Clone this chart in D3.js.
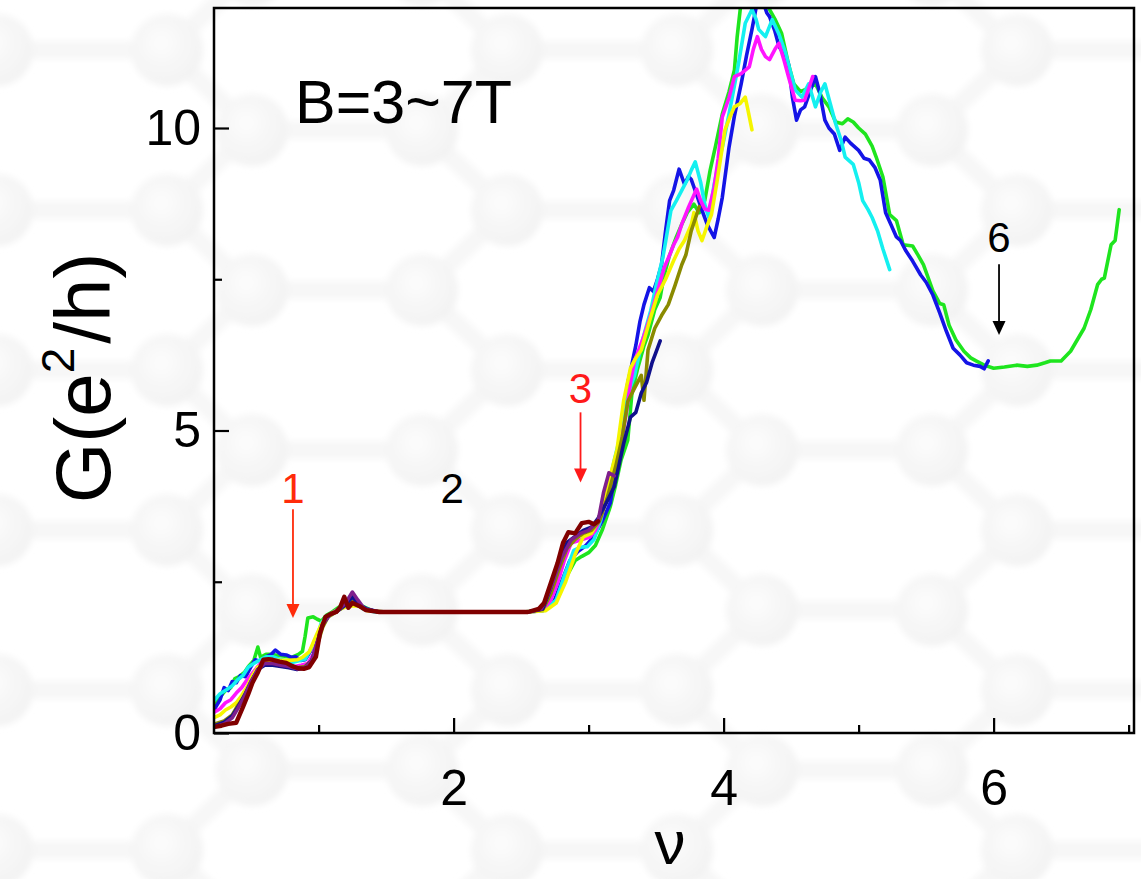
<!DOCTYPE html>
<html>
<head>
<meta charset="utf-8">
<script src="https://cdn.jsdelivr.net/npm/d3@7"></script>
<style>
  html, body { margin: 0; padding: 0; background: #ffffff; }
  svg { display: block; }
  text { font-family: "Liberation Sans", Arial, sans-serif; }
</style>
</head>
<body>
<svg id="chart" width="1141" height="879"></svg>
<script>
// ---------------- DATA ----------------
const xMajorTicks = [2, 4, 6];
const xMinorTicks = [1, 3, 5, 7];
const yMajorTicks = [0, 5, 10];
const yMinorTicks = [2.5, 7.5];

const seriesNames  = ["green", "blue", "cyan", "magenta", "yellow", "olive", "navy", "purple", "maroon"];
const seriesColors = ["#1ee51e", "#1414e6", "#14f0f0", "#ff14ff", "#f5f500", "#8a8a00", "#10108c", "#7f1f8c", "#800000"];

const green = [[0.23,0.45],[0.27,0.6],[0.31,0.7],[0.35,0.75],[0.38,0.9],[0.41,0.93],[0.45,1.0],[0.48,1.1],[0.52,1.2],[0.55,1.42],[0.57,1.25],[0.61,1.3],[0.65,1.3],[0.7,1.28],[0.75,1.27],[0.8,1.25],[0.85,1.3],[0.88,1.35],[0.9,1.6],[0.92,1.9],[0.96,1.92],[0.99,1.88],[1.02,1.85],[1.06,1.95],[1.1,2.0],[1.15,2.08],[1.2,2.12],[1.25,2.25],[1.28,2.15],[1.32,2.1],[1.4,2.02],[1.5,2.0],[1.8,2.0],[2.2,2.0],[2.5,2.0],[2.65,2.02],[2.72,2.1],[2.78,2.3],[2.84,2.6],[2.9,2.85],[2.95,2.92],[3.0,2.98],[3.05,3.1],[3.1,3.35],[3.16,3.74],[3.2,4.1],[3.24,4.51],[3.29,4.84],[3.32,5.6],[3.36,6.0],[3.41,6.4],[3.44,6.58],[3.49,7.0],[3.53,7.2],[3.56,7.57],[3.6,7.9],[3.65,8.2],[3.69,8.41],[3.73,8.6],[3.78,8.74],[3.82,8.6],[3.86,8.8],[3.9,9.3],[3.94,9.7],[3.99,10.23],[4.04,10.6],[4.08,10.96],[4.1,11.5],[4.13,12.1],[4.2,12.3],[4.27,12.2],[4.33,12.0],[4.38,11.8],[4.43,11.56],[4.48,11.06],[4.52,10.73],[4.57,10.6],[4.62,10.65],[4.68,10.73],[4.73,10.5],[4.78,10.35],[4.83,10.1],[4.88,10.07],[4.92,10.15],[4.96,10.1],[5.0,10.0],[5.05,9.9],[5.1,9.7],[5.13,9.52],[5.18,9.19],[5.23,8.57],[5.28,8.47],[5.33,8.07],[5.4,8.05],[5.44,7.9],[5.48,7.74],[5.55,7.31],[5.6,7.1],[5.63,7.08],[5.67,6.74],[5.72,6.5],[5.78,6.31],[5.83,6.2],[5.87,6.15],[5.93,6.08],[6.0,6.03],[6.08,6.05],[6.17,6.08],[6.25,6.06],[6.32,6.08],[6.38,6.12],[6.42,6.15],[6.5,6.15],[6.57,6.31],[6.62,6.5],[6.67,6.69],[6.72,7.0],[6.77,7.41],[6.8,7.5],[6.82,7.52],[6.87,8.07],[6.9,8.14],[6.93,8.65]];

const blue = [[0.23,0.4],[0.27,0.55],[0.3,0.75],[0.33,0.7],[0.36,0.85],[0.39,0.83],[0.42,0.95],[0.46,0.93],[0.5,1.1],[0.53,1.21],[0.57,1.18],[0.61,1.26],[0.65,1.3],[0.68,1.37],[0.72,1.3],[0.76,1.29],[0.8,1.25],[0.83,1.26],[0.87,1.2],[0.9,1.21],[0.94,1.35],[0.97,1.49],[1.0,1.59],[1.04,1.85],[1.08,1.95],[1.14,2.02],[1.2,2.1],[1.26,2.22],[1.3,2.12],[1.36,2.05],[1.45,2.0],[1.8,2.0],[2.2,2.0],[2.55,2.0],[2.66,2.02],[2.74,2.15],[2.8,2.5],[2.86,2.85],[2.92,3.0],[2.98,3.1],[3.04,3.25],[3.1,3.5],[3.16,3.8],[3.21,4.5],[3.25,5.0],[3.29,5.79],[3.31,5.98],[3.35,6.41],[3.38,6.8],[3.41,7.08],[3.45,7.36],[3.48,7.3],[3.51,7.5],[3.54,7.74],[3.57,8.3],[3.6,8.8],[3.63,8.97],[3.67,9.32],[3.71,9.07],[3.74,9.2],[3.76,9.15],[3.8,8.9],[3.84,8.64],[3.88,8.4],[3.93,8.19],[3.96,8.5],[3.99,8.85],[4.04,9.68],[4.08,10.2],[4.13,10.73],[4.17,11.2],[4.21,11.63],[4.25,12.1],[4.29,12.1],[4.32,11.9],[4.34,11.84],[4.38,11.6],[4.41,11.35],[4.45,11.2],[4.48,11.06],[4.51,10.5],[4.54,10.13],[4.57,10.3],[4.6,10.35],[4.64,10.6],[4.68,10.85],[4.71,10.6],[4.75,10.13],[4.78,10.0],[4.82,9.9],[4.86,9.63],[4.9,9.85],[4.94,9.75],[5.0,9.63],[5.04,9.5],[5.08,9.47],[5.12,9.35],[5.16,9.14],[5.2,8.6],[5.24,8.4],[5.28,8.2],[5.31,8.14],[5.35,7.97],[5.4,7.8],[5.46,7.57],[5.5,7.45],[5.55,7.24],[5.6,6.95],[5.65,6.64],[5.7,6.36],[5.75,6.25],[5.8,6.12],[5.85,6.08],[5.9,6.06],[5.93,6.02],[5.96,6.15]];

const cyan = [[0.23,0.55],[0.27,0.65],[0.32,0.72],[0.36,0.78],[0.4,0.88],[0.44,0.95],[0.48,1.09],[0.52,1.15],[0.56,1.2],[0.61,1.26],[0.66,1.26],[0.71,1.22],[0.76,1.2],[0.81,1.17],[0.86,1.2],[0.9,1.22],[0.95,1.42],[0.99,1.6],[1.02,1.82],[1.06,1.93],[1.12,2.0],[1.18,2.08],[1.24,2.15],[1.28,2.18],[1.33,2.05],[1.42,2.0],[1.8,2.0],[2.2,2.0],[2.55,2.0],[2.68,2.03],[2.76,2.2],[2.82,2.6],[2.89,3.02],[2.94,3.07],[2.99,3.08],[3.04,3.2],[3.09,3.52],[3.14,4.0],[3.19,4.51],[3.24,4.96],[3.29,5.6],[3.34,5.91],[3.4,6.5],[3.46,6.98],[3.5,7.4],[3.55,7.86],[3.61,8.64],[3.65,8.8],[3.69,8.97],[3.73,9.14],[3.76,9.3],[3.79,9.44],[3.83,9.1],[3.86,8.74],[3.89,8.52],[3.93,9.07],[3.96,9.4],[3.99,9.68],[4.04,10.23],[4.08,10.7],[4.11,11.06],[4.16,11.73],[4.21,11.96],[4.24,11.8],[4.26,11.63],[4.31,11.51],[4.36,11.79],[4.41,11.55],[4.46,11.23],[4.53,10.63],[4.58,10.51],[4.63,10.73],[4.68,10.35],[4.72,10.6],[4.75,10.73],[4.79,10.4],[4.83,10.07],[4.87,9.8],[4.9,9.52],[4.96,9.4],[5.0,9.1],[5.03,8.8],[5.07,8.65],[5.1,8.52],[5.14,8.3],[5.18,8.0],[5.23,7.66]];

const magenta = [[0.23,0.35],[0.27,0.4],[0.31,0.5],[0.35,0.55],[0.39,0.66],[0.43,0.75],[0.47,0.88],[0.51,0.99],[0.55,1.1],[0.59,1.2],[0.64,1.2],[0.7,1.17],[0.76,1.14],[0.82,1.1],[0.87,1.12],[0.92,1.15],[0.96,1.3],[1.0,1.6],[1.04,1.85],[1.09,1.97],[1.15,2.05],[1.2,2.12],[1.25,2.22],[1.3,2.1],[1.38,2.02],[1.5,2.0],[1.8,2.0],[2.2,2.0],[2.55,2.0],[2.66,2.03],[2.72,2.2],[2.77,2.48],[2.82,2.85],[2.87,3.14],[2.94,3.19],[3.01,3.24],[3.05,3.35],[3.09,3.57],[3.13,3.85],[3.16,4.13],[3.2,4.45],[3.24,4.79],[3.28,5.3],[3.31,5.79],[3.34,6.15],[3.4,6.5],[3.46,6.91],[3.51,7.3],[3.56,7.69],[3.6,7.9],[3.63,8.07],[3.66,8.2],[3.69,8.41],[3.74,8.69],[3.8,8.99],[3.83,8.8],[3.86,8.66],[3.89,8.64],[3.93,9.02],[3.96,9.5],[3.99,10.18],[4.04,10.5],[4.08,10.85],[4.13,10.9],[4.19,11.01],[4.22,11.3],[4.25,11.51],[4.28,11.3],[4.31,11.18],[4.34,11.13],[4.38,11.3],[4.41,11.4],[4.45,11.1],[4.48,10.85],[4.53,10.46],[4.57,10.45],[4.6,10.46],[4.63,10.65],[4.66,10.85]];

const yellow = [[0.23,0.26],[0.27,0.3],[0.31,0.38],[0.35,0.43],[0.39,0.5],[0.43,0.62],[0.47,0.76],[0.51,0.95],[0.55,1.09],[0.6,1.15],[0.66,1.2],[0.72,1.2],[0.78,1.2],[0.84,1.21],[0.88,1.25],[0.93,1.34],[0.98,1.6],[1.01,1.75],[1.05,1.9],[1.1,1.98],[1.16,2.05],[1.22,2.1],[1.26,2.1],[1.3,2.1],[1.36,2.02],[1.5,2.0],[1.8,2.0],[2.2,2.0],[2.55,2.0],[2.68,2.02],[2.76,2.15],[2.83,2.5],[2.9,2.95],[2.96,3.24],[3.02,3.3],[3.07,3.5],[3.11,3.85],[3.16,4.25],[3.21,4.68],[3.26,5.5],[3.31,6.03],[3.35,6.2],[3.39,6.33],[3.45,6.8],[3.51,7.24],[3.57,7.5],[3.63,7.81],[3.67,8.0],[3.71,8.14],[3.76,8.4],[3.78,8.6],[3.81,8.3],[3.84,8.14],[3.88,8.4],[3.91,8.57],[3.95,9.1],[3.99,9.68],[4.01,9.97],[4.05,10.2],[4.08,10.35],[4.12,10.4],[4.16,10.51],[4.18,10.3],[4.21,9.97]];

const olive = [[0.23,0.15],[0.3,0.2],[0.36,0.3],[0.4,0.45],[0.45,0.6],[0.5,0.85],[0.55,1.05],[0.6,1.15],[0.66,1.15],[0.72,1.12],[0.78,1.1],[0.84,1.08],[0.9,1.1],[0.95,1.2],[0.99,1.45],[1.03,1.75],[1.07,1.92],[1.13,2.0],[1.19,2.1],[1.24,2.18],[1.28,2.12],[1.34,2.05],[1.45,2.0],[1.8,2.0],[2.2,2.0],[2.55,2.0],[2.66,2.04],[2.72,2.3],[2.78,2.7],[2.84,3.05],[2.9,3.2],[2.96,3.3],[3.02,3.35],[3.08,3.5],[3.14,3.9],[3.2,4.4],[3.25,4.9],[3.29,5.48],[3.34,5.7],[3.39,5.91],[3.41,5.5],[3.44,6.33],[3.49,6.69],[3.54,6.9],[3.59,7.08],[3.64,7.4],[3.69,7.74],[3.72,7.9],[3.76,8.3],[3.79,8.5],[3.82,8.7]];

const navy = [[0.23,0.12],[0.3,0.18],[0.36,0.28],[0.4,0.42],[0.45,0.62],[0.5,0.85],[0.55,1.05],[0.6,1.12],[0.66,1.12],[0.72,1.1],[0.78,1.08],[0.84,1.05],[0.9,1.08],[0.95,1.2],[0.99,1.5],[1.03,1.8],[1.08,1.95],[1.14,2.02],[1.2,2.12],[1.25,2.25],[1.3,2.12],[1.36,2.04],[1.45,2.0],[1.8,2.0],[2.2,2.0],[2.55,2.0],[2.66,2.05],[2.72,2.4],[2.78,2.85],[2.84,3.15],[2.9,3.25],[2.96,3.35],[3.02,3.4],[3.07,3.55],[3.13,3.8],[3.19,4.07],[3.26,4.79],[3.31,5.22],[3.35,5.3],[3.39,5.62],[3.43,5.8],[3.47,6.12],[3.5,6.3],[3.53,6.48]];

const purple = [[0.23,0.1],[0.3,0.15],[0.36,0.25],[0.4,0.4],[0.45,0.6],[0.5,0.85],[0.55,1.05],[0.6,1.15],[0.66,1.15],[0.72,1.12],[0.78,1.1],[0.84,1.06],[0.9,1.08],[0.95,1.2],[0.99,1.5],[1.03,1.8],[1.08,1.95],[1.14,2.02],[1.2,2.15],[1.25,2.33],[1.29,2.2],[1.34,2.05],[1.45,2.0],[1.8,2.0],[2.2,2.0],[2.55,2.0],[2.65,2.05],[2.72,2.4],[2.8,2.9],[2.87,3.19],[2.94,3.3],[3.0,3.35],[3.07,3.5],[3.11,3.97],[3.15,4.3],[3.19,4.25]];

const maroon = [[0.23,0.1],[0.28,0.12],[0.33,0.15],[0.39,0.17],[0.44,0.43],[0.48,0.65],[0.51,0.83],[0.55,1.0],[0.59,1.21],[0.63,1.22],[0.66,1.21],[0.71,1.18],[0.76,1.16],[0.81,1.1],[0.85,1.07],[0.89,1.06],[0.93,1.09],[0.98,1.26],[1.01,1.65],[1.05,1.92],[1.09,1.97],[1.13,2.0],[1.16,2.08],[1.19,2.25],[1.22,2.07],[1.25,2.15],[1.3,2.1],[1.35,2.03],[1.45,2.0],[1.8,2.0],[2.2,2.0],[2.55,2.0],[2.63,2.05],[2.67,2.15],[2.72,2.48],[2.77,2.81],[2.81,3.14],[2.85,3.32],[2.9,3.3],[2.95,3.47],[3.0,3.49],[3.04,3.45],[3.07,3.5]];

const seriesData = [green, blue, cyan, magenta, yellow, olive, navy, purple, maroon];

const annotations = [
  {label: "1", x: 0.81, yText: 3.8, yFrom: 3.7, yTo: 1.9, color: "#ff2b0a"},
  {label: "2", x: 1.99, yText: 3.8, color: "#000000"},
  {label: "3", x: 2.94, yText: 5.45, yFrom: 5.3, yTo: 4.14, color: "#ff1a1a"},
  {label: "6", x: 6.04, yText: 7.95, yFrom: 7.75, yTo: 6.58, color: "#000000"}
];

// ---------------- CHART ----------------
const plot = {left: 214, right: 1134, top: 8, bottom: 733};
const svg = d3.select("#chart");

// background graphene-like lattice (decorative, very faint)
const defs = svg.append("defs");
const grad = defs.append("radialGradient").attr("id", "ball").attr("cx", "42%").attr("cy", "40%").attr("r", "62%");
grad.append("stop").attr("offset", "0%").attr("stop-color", "#fcfcfc");
grad.append("stop").attr("offset", "100%").attr("stop-color", "#f2f2f2");
defs.append("filter").attr("id", "soft").attr("x", "-20%").attr("y", "-20%").attr("width", "140%").attr("height", "140%")
  .append("feGaussianBlur").attr("stdDeviation", 3);
const bg = svg.append("g").attr("filter", "url(#soft)");
const L = 170, dY = 80, lx0 = 252, ly0 = 130;
const atoms = [], bonds = [];
for (let r = -3; r <= 12; r++) {
  const yy = ly0 + r * dY;
  const off = (Math.abs(r) % 2 === 0) ? 0 : 1.5 * L;
  for (let k = -2; k <= 3; k++) {
    const xa = lx0 + off + 3 * L * k, xb = xa + L;
    atoms.push([xa, yy], [xb, yy]);
    bonds.push([[xa, yy], [xb, yy]], [[xb, yy], [xb + L / 2, yy - dY]], [[xb, yy], [xb + L / 2, yy + dY]]);
  }
}
bg.selectAll("line").data(bonds).join("line")
  .attr("x1", d => d[0][0]).attr("y1", d => d[0][1])
  .attr("x2", d => d[1][0]).attr("y2", d => d[1][1])
  .attr("stroke", "#f7f7f7").attr("stroke-width", 18);
bg.selectAll("circle").data(atoms).join("circle")
  .attr("cx", d => d[0]).attr("cy", d => d[1]).attr("r", 36)
  .attr("fill", "url(#ball)");

const x = d3.scaleLinear().domain([0.225, 0.225 + (plot.right - plot.left) / 135]).range([plot.left, plot.right]);
const y = d3.scaleLinear().domain([0, (plot.bottom - plot.top) / 60.5]).range([plot.bottom, plot.top]);

defs.append("clipPath").attr("id", "clip").append("rect")
  .attr("x", plot.left).attr("y", plot.top)
  .attr("width", plot.right - plot.left).attr("height", plot.bottom - plot.top);

const line = d3.line().x(d => x(d[0])).y(d => y(d[1])).curve(d3.curveLinear);
const gLines = svg.append("g").attr("clip-path", "url(#clip)");
seriesData.forEach((s, i) => {
  gLines.append("path").datum(s)
    .attr("fill", "none")
    .attr("stroke", seriesColors[i])
    .attr("stroke-width", seriesNames[i] === "maroon" ? 4.4 : 3.6)
    .attr("stroke-linejoin", "round")
    .attr("stroke-linecap", "round")
    .attr("d", line);
});

// axes
const axisStyle = g => {
  g.select(".domain").remove();
  g.selectAll(".tick line").attr("stroke", "#000").attr("stroke-width", 2.2);
  g.selectAll(".tick text").attr("fill", "#000").style("font-size", "50px")
    .style("font-family", '"Liberation Sans", Arial, sans-serif');
};
svg.append("g").attr("transform", `translate(0,${plot.bottom})`)
  .call(d3.axisBottom(x).tickValues(xMajorTicks).tickFormat(d3.format("d")).tickSizeInner(-15).tickSizeOuter(0).tickPadding(36))
  .call(axisStyle);
svg.append("g").attr("transform", `translate(0,${plot.bottom})`)
  .call(d3.axisBottom(x).tickValues(xMinorTicks).tickFormat("").tickSizeInner(-8).tickSizeOuter(0))
  .call(axisStyle);
svg.append("g").attr("transform", `translate(${plot.left},0)`)
  .call(d3.axisLeft(y).tickValues(yMajorTicks).tickFormat(d3.format("d")).tickSizeInner(-15).tickSizeOuter(0).tickPadding(13))
  .call(axisStyle);
svg.append("g").attr("transform", `translate(${plot.left},0)`)
  .call(d3.axisLeft(y).tickValues(yMinorTicks).tickFormat("").tickSizeInner(-8).tickSizeOuter(0))
  .call(axisStyle);

svg.append("rect")
  .attr("x", plot.left).attr("y", plot.top)
  .attr("width", plot.right - plot.left).attr("height", plot.bottom - plot.top)
  .attr("fill", "none").attr("stroke", "#000").attr("stroke-width", 2.5);

// axis titles
svg.append("text").attr("x", 670).attr("y", 864).attr("text-anchor", "middle")
  .style("font-size", "62px").attr("fill", "#000").text("ν");

const yl = svg.append("text").attr("transform", "translate(110,378) rotate(-90)")
  .attr("text-anchor", "middle").style("font-size", "78px").attr("fill", "#000");
yl.append("tspan").text("G(e");
yl.append("tspan").attr("dy", -36).style("font-size", "46px").text("2");
yl.append("tspan").attr("dy", 36).attr("dx", 4).text("/h)");

// field label
svg.append("text").attr("x", 295).attr("y", 123).style("font-size", "61px").attr("fill", "#000").text("B=3~7T");

// annotations
annotations.forEach(a => {
  svg.append("text").attr("x", x(a.x)).attr("y", y(a.yText)).attr("text-anchor", "middle")
    .style("font-size", "42px").attr("fill", a.color).text(a.label);
  if (a.yFrom !== undefined) {
    const xp = x(a.x), y1 = y(a.yFrom), y2 = y(a.yTo);
    svg.append("line").attr("x1", xp).attr("x2", xp).attr("y1", y1).attr("y2", y2 - 12)
      .attr("stroke", a.color).attr("stroke-width", 1.8);
    svg.append("path").attr("d", `M${xp - 6.5},${y2 - 14}L${xp + 6.5},${y2 - 14}L${xp},${y2}Z`)
      .attr("fill", a.color);
  }
});
</script>
</body>
</html>
